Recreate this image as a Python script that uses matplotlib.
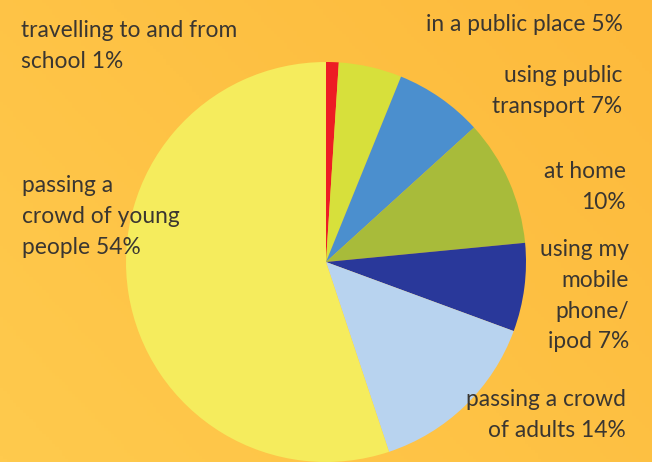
import numpy as np
import matplotlib.pyplot as plt
from matplotlib.colors import LinearSegmentedColormap

# slices, clockwise from 12 o'clock
labels = [
    "travelling to and from\nschool 1%",
    "in a public place 5%",
    "using public\ntransport 7%",
    "at home\n10%",
    "using my\nmobile\nphone/\nipod 7%",
    "passing a crowd\nof adults 14%",
    "passing a\ncrowd of young\npeople 54%",
]
values = [1, 5, 7, 10, 7, 14, 54]
colors = ["#ED1C24", "#D7E03B", "#4B8FCE", "#A8BB3A", "#29389A", "#B8D3EF", "#F5EC5D"]

W, H = 652, 462

fig = plt.figure(figsize=(W / 100, H / 100), dpi=100)
ax = fig.add_axes([0, 0, 1, 1])

# orange background, a bit lighter up-left
gx, gy = np.meshgrid(np.linspace(0, 1, 200), np.linspace(0, 1, 150))
grad = 0.6 * gx + 0.4 * (1 - gy)
cmap = LinearSegmentedColormap.from_list("bg", ["#FFCA4D", "#FDBA3C"])
ax.imshow(grad, cmap=cmap, extent=[0, W, 0, H], origin="upper", zorder=0, aspect="auto")

ax.pie(values, colors=colors, startangle=90, counterclock=False,
       center=(326, H - 262), radius=200,
       wedgeprops=dict(linewidth=0, zorder=1))

ax.set_xlim(0, W)
ax.set_ylim(0, H)
ax.set_aspect("equal")
ax.axis("off")

# label anchor in pixels from top-left: (x, first baseline, ha)
pos = [
    (21, 37, "left"),
    (623, 31, "right"),
    (622, 82, "right"),
    (626, 178, "right"),
    (629, 256, "right"),
    (626, 406, "right"),
    (22, 192, "left"),
]
LINE = 30.8
for lab, (x, y, ha) in zip(labels, pos):
    for i, line in enumerate(lab.split("\n")):
        ax.text(x, H - (y + i * LINE), line, ha=ha, va="baseline",
                fontsize=16.4, family="Lato", color="#3A3631", zorder=3)

fig.savefig("out.png", dpi=100)
